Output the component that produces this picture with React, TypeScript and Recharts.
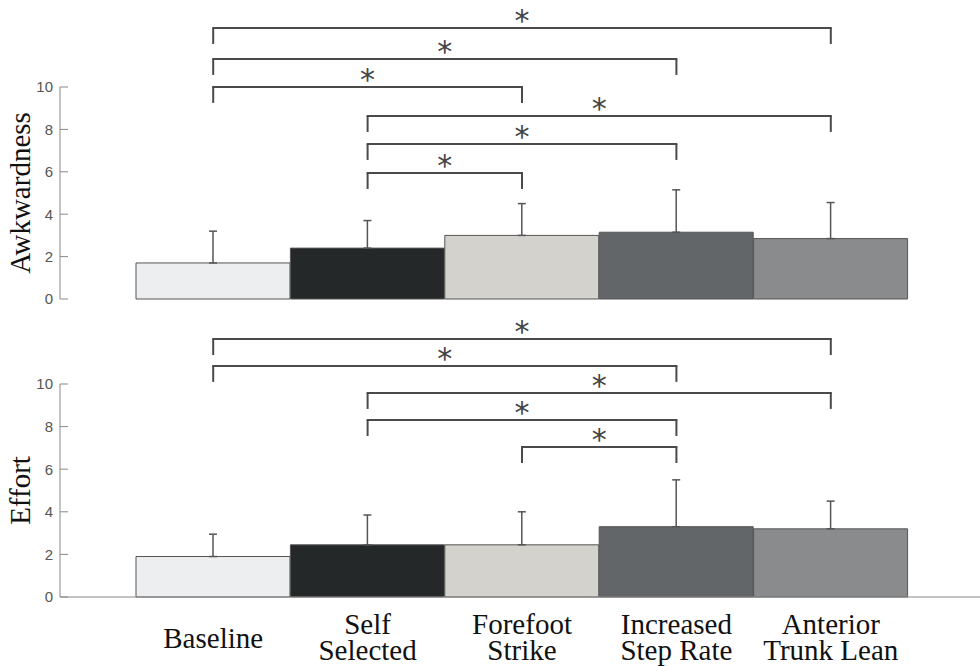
import React from 'react';
import { ComposedChart, Bar, Cell, ErrorBar, XAxis, YAxis, ReferenceLine } from 'recharts';

const conditions = ['Baseline', 'Self Selected', 'Forefoot Strike', 'Increased Step Rate', 'Anterior Trunk Lean'];
const labelLines = [['Baseline'], ['Self', 'Selected'], ['Forefoot', 'Strike'], ['Increased', 'Step Rate'], ['Anterior', 'Trunk Lean']];
const barColors = ['#eceef0', '#252829', '#d3d2cd', '#626669', '#898b8d'];
const yTicks = [0, 2, 4, 6, 8, 10];

const awkMean = [1.7, 2.4, 3.0, 3.15, 2.85];
const awkUpper = [3.2, 3.7, 4.5, 5.15, 4.55];
const effortMean = [1.9, 2.45, 2.45, 3.3, 3.2];
const effortUpper = [2.95, 3.85, 4.0, 5.5, 4.5];

// significant pairs: [from, to, bracket level]
const awkPairs: [number, number, number][] = [
  [0, 4, 12.78], [0, 3, 11.32], [0, 2, 10.0], [1, 4, 8.63], [1, 3, 7.31], [1, 2, 5.94],
];
const effortPairs: [number, number, number][] = [
  [0, 4, 12.11], [0, 3, 10.85], [1, 4, 9.58], [1, 3, 8.31], [2, 3, 7.04],
];
const DROP = 0.75;

const bracketColor = '#4a4a4a';
const axisColor = '#888';

const rows = (mean: number[], upper: number[]) =>
  conditions.map((c, i) => ({ name: c, mean: mean[i], err: [0, upper[i] - mean[i]] }));

const brackets = (pairs: [number, number, number][]) =>
  pairs.flatMap(([a, b, h], k) => [
    <ReferenceLine
      key={`h${k}`}
      ifOverflow="visible"
      segment={[{ x: conditions[a], y: h }, { x: conditions[b], y: h }]}
      stroke={bracketColor}
      strokeWidth={2}
      strokeLinecap="square"
      label={{ value: '*', position: 'top', offset: -3, fontSize: 30, fill: '#444', fontFamily: 'DejaVu Sans' }}
    />,
    <ReferenceLine
      key={`l${k}`}
      ifOverflow="visible"
      segment={[{ x: conditions[a], y: h }, { x: conditions[a], y: h - DROP }]}
      stroke={bracketColor}
      strokeWidth={2}
    />,
    <ReferenceLine
      key={`r${k}`}
      ifOverflow="visible"
      segment={[{ x: conditions[b], y: h }, { x: conditions[b], y: h - DROP }]}
      stroke={bracketColor}
      strokeWidth={2}
    />,
  ]);

const CategoryTick = (props: any) => {
  const { x, y, payload } = props;
  const lines = labelLines[conditions.indexOf(payload.value)] || [payload.value];
  const base = lines.length === 1 ? [49] : [35, 61];
  return (
    <text textAnchor="middle" fontFamily="'Liberation Serif', serif" fontSize={29} fill="#111">
      {lines.map((l, i) => (
        <tspan key={i} x={x} y={y + base[i]}>{l}</tspan>
      ))}
    </text>
  );
};

const Panel = ({ data, pairs, title, height, top, bottom, showLabels }: any) => (
  <ComposedChart
    width={980}
    height={height}
    data={data}
    barCategoryGap={0}
    margin={{ top, right: 0, bottom, left: 0 }}
  >
    <XAxis
      dataKey="name"
      padding={{ left: 76, right: 72 }}
      stroke={axisColor}
      tickLine={false}
      tickSize={0}
      height={showLabels ? 69 : 0}
      tick={showLabels ? <CategoryTick /> : false}
      interval={0}
    />
    <YAxis
      width={60}
      domain={[0, 10]}
      ticks={yTicks}
      stroke={axisColor}
      tickSize={-8}
      tickMargin={15}
      tick={{ fill: '#555', fontSize: 15, fontFamily: "'Liberation Sans', Arial, sans-serif" }}
      label={{
        value: title,
        angle: -90,
        position: 'insideLeft',
        offset: 20,
        fontSize: 29,
        fill: '#111',
        fontFamily: "'Liberation Serif', serif",
        style: { textAnchor: 'middle' },
      }}
    />
    <Bar dataKey="mean" stroke="#555" strokeWidth={1} isAnimationActive={false}>
      {data.map((_: any, i: number) => (
        <Cell key={i} fill={barColors[i]} />
      ))}
      <ErrorBar dataKey="err" width={4} stroke="#555" strokeWidth={1.5} isAnimationActive={false} />
    </Bar>
    {brackets(pairs)}
  </ComposedChart>
);

export default function App() {
  return (
    <div style={{ position: 'absolute', left: 0, top: 0, width: 980, height: 666, background: '#fff' }}>
      <div style={{ position: 'absolute', left: 0, top: 0 }}>
        <Panel data={rows(awkMean, awkUpper)} pairs={awkPairs} title="Awkwardness" height={310} top={87} bottom={11} showLabels={false} />
      </div>
      <div style={{ position: 'absolute', left: 0, top: 310 }}>
        <Panel data={rows(effortMean, effortUpper)} pairs={effortPairs} title="Effort" height={356} top={74} bottom={0} showLabels />
      </div>
    </div>
  );
}
